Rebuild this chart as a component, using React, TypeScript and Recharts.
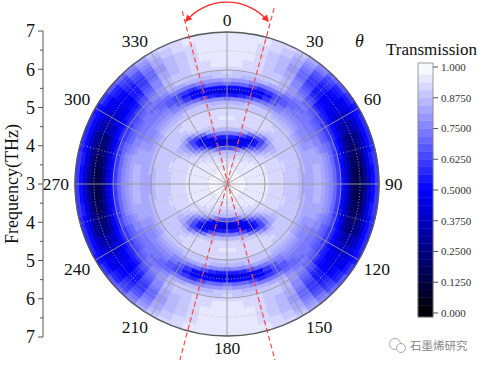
import React from 'react';
import {
  RadialBarChart, RadialBar, RadarChart, Radar, PolarGrid, PolarAngleAxis, PolarRadiusAxis,
  Cell, LineChart, Line, XAxis, YAxis, ReferenceLine, ReferenceArea,
} from 'recharts';

const SERIF = "'Liberation Serif', 'Times New Roman', Times, serif";

// radial bins: frequency (THz) at ring centres, centre = 3 THz, edge = 7 THz
const ringFreqs = [
  3.05, 3.15, 3.25, 3.35, 3.45, 3.55, 3.65, 3.75, 3.85, 3.95,
  4.05, 4.15, 4.25, 4.35, 4.45, 4.55, 4.65, 4.75, 4.85, 4.95,
  5.05, 5.15, 5.25, 5.35, 5.45, 5.55, 5.65, 5.75, 5.85, 5.95,
  6.05, 6.15, 6.25, 6.35, 6.45, 6.55, 6.65, 6.75, 6.85, 6.95,
];

// angular bins (deg, clockwise from top)
const sectorAngles = [
  0, 5, 10, 15, 20, 25, 30, 35, 40, 45, 50, 55, 60, 65, 70, 75, 80, 85,
  90, 95, 100, 105, 110, 115, 120, 125, 130, 135, 140, 145, 150, 155, 160, 165, 170, 175,
  180, 185, 190, 195, 200, 205, 210, 215, 220, 225, 230, 235, 240, 245, 250, 255, 260, 265,
  270, 275, 280, 285, 290, 295, 300, 305, 310, 315, 320, 325, 330, 335, 340, 345, 350, 355,
];

// transmission along rays (inner -> outer) for theta = 0..90; pattern is mirror-symmetric
const t0 = [.98, .98, .975, .97, .955, .94, .925, .9, .85, .63, .45, .42, .57, .74, .87, .91, .935, .94, .935, .92, .9, .87, .74, .54, .43, .52, .72, .82, .88, .91, .935, .945, .95, .955, .96, .965, .965, .965, .965, .965];
const t5 = [.98, .98, .975, .97, .955, .94, .925, .9, .85, .645, .45, .42, .56, .73, .87, .91, .933, .938, .933, .92, .9, .87, .75, .55, .435, .51, .7, .81, .875, .905, .927, .94, .945, .95, .957, .96, .962, .962, .962, .965];
const t10 = [.98, .98, .975, .97, .955, .94, .925, .9, .855, .66, .45, .42, .55, .72, .865, .91, .93, .935, .93, .92, .9, .87, .76, .57, .44, .5, .69, .8, .87, .9, .92, .93, .935, .94, .95, .95, .955, .955, .955, .96];
const t15 = [.98, .98, .975, .97, .957, .945, .93, .908, .87, .71, .47, .43, .5, .68, .845, .905, .928, .933, .928, .918, .9, .875, .79, .63, .48, .49, .63, .77, .86, .895, .91, .915, .918, .918, .92, .92, .928, .932, .938, .942];
const t20 = [.98, .98, .975, .97, .96, .95, .935, .915, .885, .76, .5, .45, .45, .63, .82, .9, .925, .93, .925, .915, .9, .88, .82, .69, .52, .48, .57, .74, .85, .89, .9, .9, .9, .895, .89, .89, .9, .91, .92, .925];
const t25 = [.98, .98, .975, .97, .96, .952, .94, .922, .9, .815, .61, .49, .45, .55, .74, .875, .918, .928, .925, .915, .9, .88, .83, .72, .6, .55, .6, .73, .835, .878, .883, .875, .87, .858, .845, .845, .86, .875, .893, .908];
const t30 = [.98, .98, .975, .97, .96, .955, .945, .93, .91, .865, .72, .54, .45, .47, .66, .85, .91, .925, .925, .915, .9, .88, .84, .76, .68, .63, .63, .72, .82, .865, .865, .85, .84, .82, .8, .8, .82, .84, .865, .89];
const t35 = [.98, .98, .975, .97, .962, .955, .948, .935, .918, .883, .8, .66, .56, .55, .64, .8, .89, .913, .918, .91, .895, .872, .84, .78, .72, .675, .665, .71, .78, .812, .803, .775, .75, .725, .7, .7, .725, .76, .793, .825];
const t40 = [.98, .98, .975, .97, .965, .955, .95, .94, .925, .9, .865, .78, .68, .63, .63, .74, .865, .9, .91, .905, .89, .865, .84, .8, .76, .72, .7, .7, .74, .76, .74, .7, .66, .63, .6, .6, .63, .68, .72, .76];
const t45 = [.98, .98, .975, .97, .965, .958, .95, .945, .933, .913, .89, .84, .78, .74, .73, .79, .873, .9, .905, .898, .885, .858, .83, .795, .76, .73, .72, .71, .72, .71, .67, .63, .59, .56, .54, .54, .565, .61, .65, .71];
const t50 = [.98, .98, .975, .97, .965, .96, .95, .95, .94, .925, .91, .89, .865, .84, .82, .84, .88, .9, .9, .89, .88, .85, .82, .79, .76, .74, .74, .72, .7, .66, .6, .56, .52, .49, .48, .48, .5, .54, .58, .66];
const t55 = [.98, .98, .975, .97, .965, .96, .953, .95, .945, .933, .922, .908, .89, .875, .862, .87, .89, .9, .898, .888, .865, .835, .805, .78, .76, .74, .73, .705, .68, .63, .59, .54, .49, .455, .44, .44, .46, .495, .54, .61];
const t60 = [.98, .98, .975, .97, .965, .96, .955, .95, .95, .94, .935, .925, .915, .91, .905, .9, .9, .9, .895, .885, .85, .82, .79, .77, .76, .74, .72, .69, .66, .6, .58, .52, .46, .42, .4, .4, .42, .45, .5, .56];
const t65 = [.98, .98, .975, .972, .967, .96, .955, .95, .95, .943, .938, .93, .922, .918, .91, .905, .903, .9, .893, .883, .85, .825, .805, .795, .79, .77, .75, .715, .675, .615, .565, .5, .415, .345, .315, .325, .36, .425, .5, .565];
const t70 = [.98, .98, .975, .975, .97, .96, .955, .95, .95, .945, .94, .935, .93, .925, .915, .91, .905, .9, .89, .88, .85, .83, .82, .82, .82, .8, .78, .74, .69, .63, .55, .48, .37, .27, .23, .25, .3, .4, .5, .57];
const t75 = [.98, .98, .975, .975, .97, .96, .955, .95, .95, .948, .94, .935, .93, .925, .915, .908, .903, .898, .888, .875, .848, .83, .83, .833, .833, .815, .79, .75, .695, .62, .54, .46, .335, .23, .195, .22, .3, .42, .52, .585];
const t80 = [.98, .98, .975, .975, .97, .96, .955, .95, .95, .95, .94, .935, .93, .925, .915, .905, .9, .895, .885, .87, .845, .83, .84, .845, .845, .83, .8, .76, .7, .61, .53, .44, .3, .19, .16, .19, .3, .44, .54, .6];
const t85 = [.98, .98, .975, .975, .97, .96, .955, .95, .95, .95, .94, .935, .93, .925, .915, .905, .9, .895, .885, .87, .843, .825, .84, .848, .848, .835, .805, .76, .695, .605, .525, .435, .285, .175, .15, .175, .285, .42, .53, .6];
const t90 = [.98, .98, .975, .975, .97, .96, .955, .95, .95, .95, .94, .935, .93, .925, .915, .905, .9, .895, .885, .87, .84, .82, .84, .85, .85, .84, .81, .76, .69, .6, .52, .43, .27, .16, .14, .16, .27, .4, .52, .6];

const angleTickLabels = ['0', '30', '60', '90', '120', '150', '180', '210', '240', '270', '300', '330'];
const minorAngleLabels = ['15', '45', '75', '105', '135', '165', '195', '225', '255', '285', '315', '345'];
const majorRadiusTicks = [4, 5, 6];
const minorRadiusTicks = [3.5, 4.5, 5.5, 6.5];
const outerRadiusTicks = [7];

// left frequency axis: signed offset from centre, and its labels
const leftAxisPos = [4, 3.5, 3, 2.5, 2, 1.5, 1, 0.5, 0, -0.5, -1, -1.5, -2, -2.5, -3, -3.5, -4];
const leftAxisLabels = ['7', '', '6', '', '5', '', '4', '', '3', '', '4', '', '5', '', '6', '', '7'];

const colorbarTicks = [0, 0.125, 0.25, 0.375, 0.5, 0.625, 0.75, 0.875, 1];
const colorbarLabels = ['0.000', '0.1250', '0.2500', '0.3750', '0.5000', '0.6250', '0.7500', '0.8750', '1.000'];

// red annotation lines, in THz offsets from the plot centre
const dashLineA = [{ x: -1.18, y: 4.55 }, { x: 1.26, y: -4.63 }];
const dashLineB = [{ x: 1.24, y: 4.63 }, { x: -1.24, y: -4.63 }];

const quadrantColumns: Record<number, number[]> = {
  0: t0, 5: t5, 10: t10, 15: t15, 20: t20, 25: t25, 30: t30, 35: t35, 40: t40, 45: t45,
  50: t50, 55: t55, 60: t60, 65: t65, 70: t70, 75: t75, 80: t80, 85: t85, 90: t90,
};

const LEVELS = 32;
function transColor(v: number): string {
  const k = Math.max(0, Math.min(LEVELS - 1, Math.floor(v * LEVELS)));
  const q = (k + 0.5) / LEVELS;
  if (q < 0.5) {
    return `rgb(0,0,${Math.round(510 * q)})`;
  }
  const t = Math.round((q - 0.5) * 2 * 255);
  return `rgb(${t},${t},255)`;
}

function transmissionAt(ring: number, angle: number): number {
  let a = angle % 180;
  if (a > 90) a = 180 - a;
  return quadrantColumns[a][ring];
}

const sectorSpan = 360 / sectorAngles.length;
const heatRows = ringFreqs.map((f) => {
  const row: Record<string, number | string> = { f: f.toFixed(2) };
  sectorAngles.forEach((_, k) => {
    row[`s${k}`] = sectorSpan;
  });
  return row;
});

const majorAngleData = angleTickLabels.map((label) => ({ label, v: 3 }));
const minorAngleData = minorAngleLabels.map((label) => ({ label, v: 3 }));

const colorbarLevels = Array.from({ length: LEVELS }, (_, k) => k);
const CB_MIN = -0.0163;
const CB_MAX = 1.0163;

const W = 479;
const H = 365;
const CX = 227;
const CY = 184;
const R = 152;
const ZERO_MARGIN = { top: 0, right: 0, bottom: 0, left: 0 };

function AngleTick(props: any) {
  const { x, y, payload, textAnchor } = props;
  const deg = Number(payload.value);
  const c = Math.cos((deg * Math.PI) / 180);
  let dy = '0.35em';
  if (c > 0.05) dy = '0em';
  else if (c < -0.05) dy = '0.7em';
  return (
    <text x={x} y={y} dy={dy} textAnchor={textAnchor} fontFamily={SERIF} fontSize={17.5} fill="#111">
      {payload.value}
    </text>
  );
}

function LeftTick(props: any) {
  const { x, y, payload } = props;
  const idx = leftAxisPos.indexOf(payload.value);
  const label = idx >= 0 ? leftAxisLabels[idx] : '';
  const major = label !== '';
  return (
    <g>
      <line x1={x} x2={x - (major ? 5 : 3)} y1={y} y2={y} stroke="#555" strokeWidth={1} />
      {major && (
        <text x={x - 8} y={y} dy="0.35em" textAnchor="end" fontFamily={SERIF} fontSize={18} fill="#111">
          {label}
        </text>
      )}
    </g>
  );
}

function FreqTitle(props: any) {
  const vb = props.viewBox || { x: 0, y: 31, width: 43, height: 306 };
  const tx = vb.x + 18;
  const ty = vb.y + vb.height / 2;
  return (
    <text x={tx} y={ty} transform={`rotate(-90 ${tx} ${ty})`} textAnchor="middle" fontFamily={SERIF} fontSize={18} fill="#111">
      Frequency(THz)
    </text>
  );
}

const layer: React.CSSProperties = { position: 'absolute', left: 0, top: 0 };
const hiddenLineData = [{ x: 0, y: 0.5 }, { x: 1, y: 0.5 }];
const hiddenLineDataWide = [{ x: -4, y: 0 }, { x: 4, y: 0 }];

export default function App() {
  return (
    <div style={{ position: 'absolute', left: 0, top: 0, width: W, height: H, background: '#fff', overflow: 'hidden' }}>
      {/* heat map */}
      <div style={layer}>
        <RadialBarChart
          width={W}
          height={H}
          cx={CX}
          cy={CY}
          innerRadius={0}
          outerRadius={R}
          startAngle={90 + sectorSpan / 2}
          endAngle={90 + sectorSpan / 2 - 360}
          data={heatRows}
          barCategoryGap={0}
          barGap={0}
          margin={ZERO_MARGIN}
        >
          <PolarAngleAxis type="number" domain={[0, 360]} tick={false} axisLine={false} tickLine={false} />
          <PolarRadiusAxis type="category" dataKey="f" tick={false} axisLine={false} tickLine={false} />
          {sectorAngles.map((ang, k) => (
            <RadialBar key={k} dataKey={`s${k}`} stackId="heat" isAnimationActive={false}>
              {ringFreqs.map((_, i) => {
                const c = transColor(transmissionAt(i, ang));
                return <Cell key={i} fill={c} stroke={c} strokeWidth={0.6} />;
              })}
            </RadialBar>
          ))}
        </RadialBarChart>
      </div>

      {/* minor dotted grid */}
      <div style={layer}>
        <RadarChart width={W} height={H} cx={CX} cy={CY} outerRadius={R} startAngle={75} endAngle={-285} data={minorAngleData} margin={ZERO_MARGIN}>
          <PolarGrid gridType="circle" stroke="#b4b4b4" strokeWidth={0.8} strokeDasharray="1 2" />
          <PolarAngleAxis dataKey="label" tick={false} axisLine={false} tickLine={false} />
          <PolarRadiusAxis type="number" domain={[3, 7]} ticks={minorRadiusTicks} tick={false} axisLine={false} tickLine={false} />
          <Radar dataKey="v" stroke="none" fill="none" isAnimationActive={false} />
        </RadarChart>
      </div>

      {/* major grid + angle labels */}
      <div style={layer}>
        <RadarChart width={W} height={H} cx={CX} cy={CY} outerRadius={R} startAngle={90} endAngle={-270} data={majorAngleData} margin={ZERO_MARGIN}>
          <PolarGrid gridType="circle" stroke="#9a9a9a" strokeWidth={0.9} />
          <PolarAngleAxis dataKey="label" tick={<AngleTick />} tickSize={6} axisLine={false} tickLine={false} />
          <PolarRadiusAxis type="number" domain={[3, 7]} ticks={majorRadiusTicks} tick={false} axisLine={false} tickLine={false} />
          <Radar dataKey="v" stroke="none" fill="none" isAnimationActive={false} />
        </RadarChart>
      </div>

      {/* outer border circle */}
      <div style={layer}>
        <RadarChart width={W} height={H} cx={CX} cy={CY} outerRadius={R} data={majorAngleData} margin={ZERO_MARGIN}>
          <PolarGrid gridType="circle" radialLines={false} stroke="#5a5a5a" strokeWidth={1.3} />
          <PolarAngleAxis dataKey="label" tick={false} axisLine={false} tickLine={false} />
          <PolarRadiusAxis type="number" domain={[3, 7]} ticks={outerRadiusTicks} tick={false} axisLine={false} tickLine={false} />
          <Radar dataKey="v" stroke="none" fill="none" isAnimationActive={false} />
        </RadarChart>
      </div>

      {/* red dashed annotation lines */}
      <div style={layer}>
        <LineChart
          width={W}
          height={H}
          data={hiddenLineDataWide}
          margin={{ top: CY - R, left: CX - R, right: W - (CX + R), bottom: H - (CY + R) }}
        >
          <XAxis type="number" dataKey="x" domain={[-4, 4]} hide />
          <YAxis type="number" domain={[-4, 4]} hide />
          <Line dataKey="y" stroke="none" dot={false} activeDot={false} isAnimationActive={false} />
          <ReferenceLine segment={dashLineA} stroke="#ff4a4a" strokeWidth={1.2} strokeDasharray="5 3" ifOverflow="visible" />
          <ReferenceLine segment={dashLineB} stroke="#ff4a4a" strokeWidth={1.2} strokeDasharray="5 3" ifOverflow="visible" />
        </LineChart>
      </div>

      {/* left frequency axis */}
      <div style={layer}>
        <LineChart width={60} height={H} data={hiddenLineDataWide} margin={{ top: CY - R - 1, bottom: H - (CY + R) - 1, left: 0, right: 0 }}>
          <XAxis type="number" dataKey="x" domain={[-4, 4]} hide />
          <YAxis
            type="number"
            domain={[-4, 4]}
            ticks={leftAxisPos}
            interval={0}
            width={43}
            tickSize={0}
            tickMargin={0}
            tickLine={false}
            tick={<LeftTick />}
            axisLine={{ stroke: '#555', strokeWidth: 1 }}
            label={{ content: <FreqTitle /> }}
          />
          <Line dataKey="y" stroke="none" dot={false} activeDot={false} isAnimationActive={false} />
        </LineChart>
      </div>

      {/* colour bar */}
      <div style={layer}>
        <LineChart width={W} height={H} data={hiddenLineData} margin={{ top: 63, bottom: H - 317, left: 418, right: 0 }}>
          <XAxis type="number" dataKey="x" domain={[0, 1]} hide />
          <YAxis
            type="number"
            orientation="right"
            domain={[CB_MIN, CB_MAX]}
            ticks={colorbarTicks}
            interval={0}
            width={46}
            tickSize={5}
            tickMargin={3}
            axisLine={false}
            tickLine={{ stroke: '#555' }}
            tick={{ fontSize: 11, fill: '#333', fontFamily: SERIF }}
            tickFormatter={(v: number) => colorbarLabels[colorbarTicks.indexOf(v)] ?? ''}
          />
          {colorbarLevels.map((k) => (
            <ReferenceArea
              key={k}
              y1={k === 0 ? CB_MIN : k / LEVELS}
              y2={k === LEVELS - 1 ? CB_MAX : (k + 1) / LEVELS}
              fill={transColor((k + 0.5) / LEVELS)}
              fillOpacity={1}
              stroke={transColor((k + 0.5) / LEVELS)}
              strokeWidth={0.5}
              ifOverflow="visible"
            />
          ))}
          <ReferenceArea y1={CB_MIN} y2={CB_MAX} fill="none" stroke="#888" strokeWidth={0.8} ifOverflow="visible" />
          <Line dataKey="y" stroke="none" dot={false} activeDot={false} isAnimationActive={false} />
        </LineChart>
      </div>

      {/* texts and arc annotation */}
      <svg style={layer} width={W} height={H}>
        <defs>
          <marker id="arrowHead" viewBox="0 0 10 10" refX="8" refY="5" markerUnits="userSpaceOnUse" markerWidth="8" markerHeight="7" orient="auto-start-reverse">
            <path d="M0,0 L10,5 L0,10 z" fill="#ff2a2a" />
          </marker>
        </defs>
        <path d="M186,21 A54,54 0 0 1 268,21" fill="none" stroke="#ff2a2a" strokeWidth={1.3} markerStart="url(#arrowHead)" markerEnd="url(#arrowHead)" />
        <text x={355} y={47} fontFamily={SERIF} fontStyle="italic" fontSize={18} fill="#111">θ</text>
        <text x={386} y={55} fontFamily={SERIF} fontSize={17} fill="#111">Transmission</text>
        <circle cx={395} cy={344} r={5.5} fill="none" stroke="#aaa" strokeWidth={1} />
        <circle cx={401} cy={348} r={4.5} fill="#fff" stroke="#aaa" strokeWidth={1} />
        <text x={410} y={350} fontFamily="'Noto Sans CJK SC', sans-serif" fontSize={11.5} fill="#888">石墨烯研究</text>
      </svg>
    </div>
  );
}
